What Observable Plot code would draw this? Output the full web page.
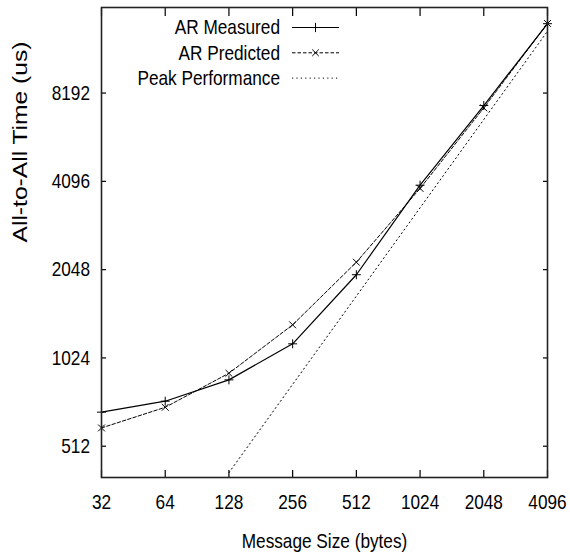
<!DOCTYPE html>
<html>
<head>
<meta charset="utf-8">
<script src="https://cdn.jsdelivr.net/npm/d3@7"></script>
<script src="https://cdn.jsdelivr.net/npm/@observablehq/plot@0.6"></script>
<style>
  html, body { margin: 0; padding: 0; background: #fff; }
  #chart svg { display: block; }
</style>
</head>
<body>
<div id="chart"></div>
<script>
// ---- data ----
const sizes = [32, 64, 128, 256, 512, 1024, 2048, 4096];
const measured = [669, 729, 862, 1144, 1968, 3975, 7430, 14125];
const predicted = [591, 695, 908, 1328, 2171, 3875, 7294, 14150];
const peakSizes = [128, 256, 512, 1024, 2048, 4096];
const peak = [416, 832, 1664, 3328, 6656, 13312];
const xTicks = [32, 64, 128, 256, 512, 1024, 2048, 4096];
const yTicks = [512, 1024, 2048, 4096, 8192];
const seriesNames = ["AR Measured", "AR Predicted", "Peak Performance"];
const xLabel = "Message Size (bytes)";
const yLabel = "All-to-All Time (us)";

const measuredData = sizes.map((s, i) => ({size: s, time: measured[i]}));
const predictedData = sizes.map((s, i) => ({size: s, time: predicted[i]}));
const peakData = peakSizes.map((s, i) => ({size: s, time: peak[i]}));

const font = "'Liberation Sans', Arial, sans-serif";
const ink = "#000";
const dotted = "1.2,3.2";
const dashed = "3.5,2";

const chart = Plot.plot({
  width: 570,
  height: 554,
  marginLeft: 101,
  marginRight: 23,
  marginTop: 7,
  marginBottom: 77,
  style: {background: "#fff", color: ink, fontFamily: font},
  x: {type: "log", base: 2, domain: [32, 4096]},
  y: {type: "log", base: 2, domain: [400.5, 16040]},
  marks: [
    Plot.axisX(xTicks, {anchor: "bottom", tickSize: -7, tickPadding: 24, tickFormat: d => String(d), fontSize: 21, label: null, strokeWidth: 1.2}),
    Plot.axisX(xTicks, {anchor: "top", tickSize: -8, fill: "none", label: null, strokeWidth: 1.2}),
    Plot.axisY(yTicks, {anchor: "left", tickSize: -5, tickPadding: 16.5, tickFormat: d => String(d), fontSize: 21, label: null, strokeWidth: 1.2}),
    Plot.axisY(yTicks, {anchor: "right", tickSize: -5, fill: "none", label: null, strokeWidth: 1.2}),
    Plot.line(peakData, {x: "size", y: "time", stroke: ink, strokeWidth: 1, strokeDasharray: dotted, clip: true}),
    Plot.line(predictedData, {x: "size", y: "time", stroke: ink, strokeWidth: 1, strokeDasharray: dashed, clip: true}),
    Plot.line(measuredData, {x: "size", y: "time", stroke: ink, strokeWidth: 1.2, clip: true}),
    Plot.dot(predictedData, {x: "size", y: "time", symbol: "times", r: 3.2, stroke: ink, strokeWidth: 1}),
    Plot.dot(measuredData, {x: "size", y: "time", symbol: "plus", r: 3, stroke: ink, strokeWidth: 1}),
    Plot.frame({stroke: "#222", strokeWidth: 1.6}),
    Plot.text([xLabel], {frameAnchor: "bottom", dy: 70, lineAnchor: "bottom", fontSize: 21, fill: ink, className: "squeeze"}),
    Plot.text([yLabel], {frameAnchor: "left", dx: -74.5, rotate: -90, lineAnchor: "bottom", fontSize: 21, fill: ink, className: "ylabel"})
  ]
});

document.getElementById("chart").appendChild(chart);

// ---- legend (top inside the frame) ----
const svg = d3.select(chart);
const legend = svg.append("g").attr("class", "legend");
const styles = [
  {dash: null, sw: 1.2, sym: d3.symbolPlus},
  {dash: dashed, sw: 1, sym: d3.symbolTimes},
  {dash: dotted, sw: 1, sym: null}
];
seriesNames.forEach((name, i) => {
  const cy = 27 + i * 25.3;
  legend.append("text")
    .attr("x", 280).attr("y", cy).attr("dy", "0.35em")
    .attr("text-anchor", "end")
    .attr("font-family", font).attr("font-size", 21).attr("fill", ink)
    .text(name);
  legend.append("line")
    .attr("x1", 292).attr("x2", 339).attr("y1", cy + 0.5).attr("y2", cy + 0.5)
    .attr("stroke", ink).attr("stroke-width", styles[i].sw)
    .attr("stroke-dasharray", styles[i].dash);
  if (styles[i].sym) {
    legend.append("path")
      .attr("transform", `translate(315.5,${cy + 0.5})`)
      .attr("d", d3.symbol(styles[i].sym, Math.PI * 9.5)())
      .attr("fill", "none").attr("stroke", ink).attr("stroke-width", 1);
  }
});

// The reference's lettering is horizontally condensed: squeeze horizontal texts.
svg.selectAll("text").each(function () {
  const el = this;
  const inYLabel = el.closest(".ylabel") !== null;
  if (!el.textContent) return;
  const w = el.getComputedTextLength();
  if (inYLabel) {
    el.setAttribute("textLength", 201);
  } else {
    el.setAttribute("textLength", (w * 0.82).toFixed(1));
  }
  el.setAttribute("lengthAdjust", "spacingAndGlyphs");
});
</script>
</body>
</html>
